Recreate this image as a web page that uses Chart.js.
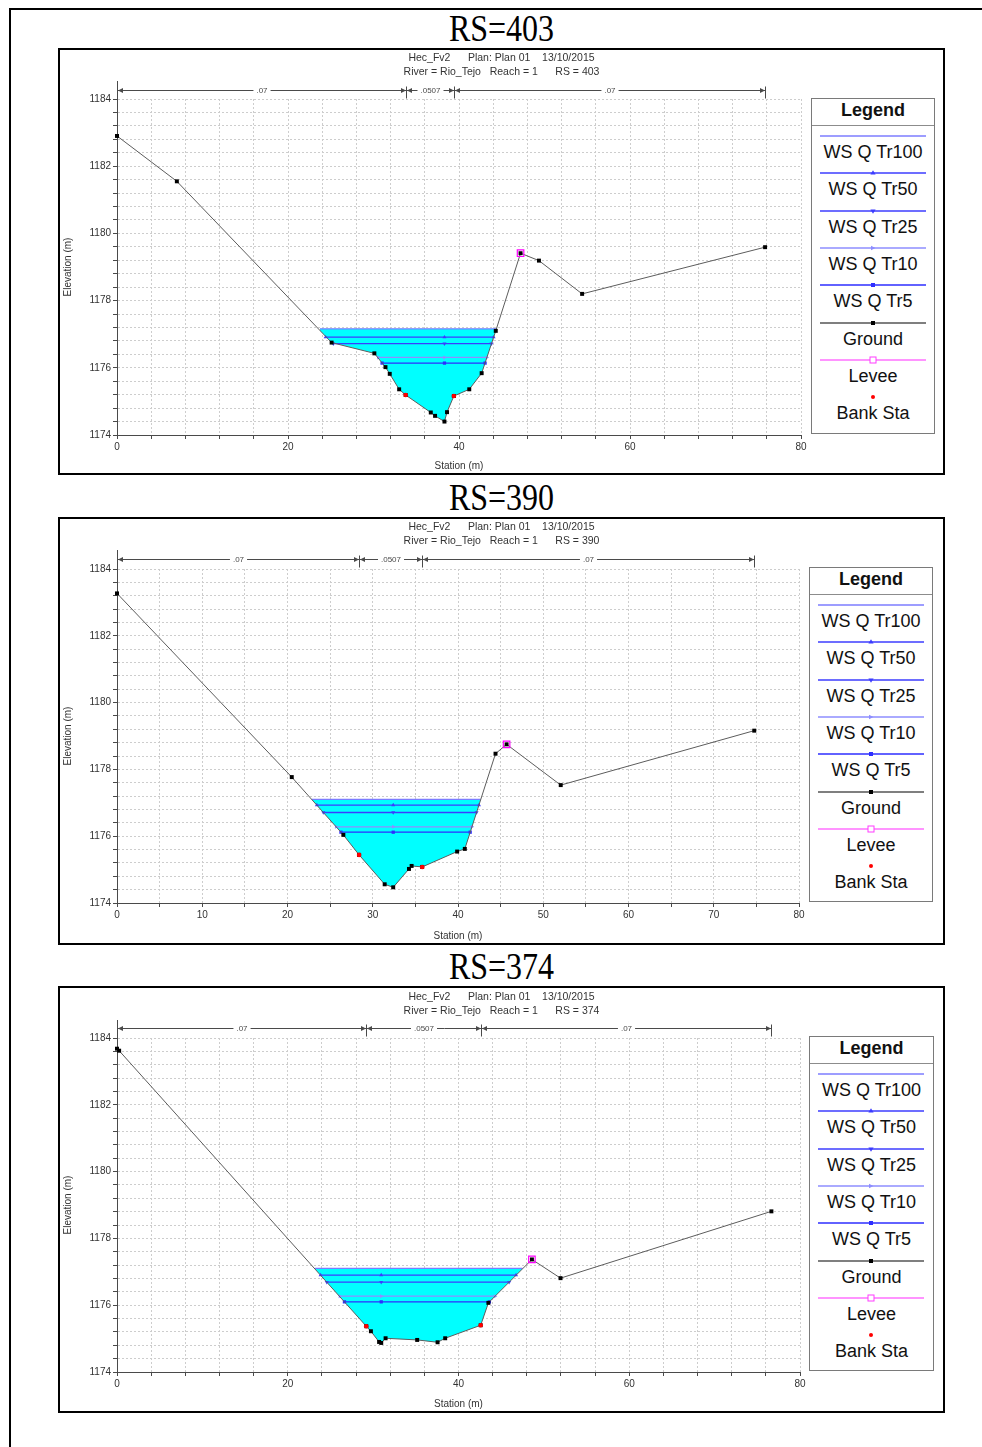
<!DOCTYPE html>
<html>
<head>
<meta charset="utf-8">
<title>Cross sections RS 403 / 390 / 374</title>
<script src="https://cdn.jsdelivr.net/npm/chart.js@4.4.1/dist/chart.umd.min.js"></script>
<style>
  html, body { margin: 0; padding: 0; background: #fff; }
  body { width: 982px; height: 1447px; position: relative; overflow: hidden;
         font-family: 'Liberation Sans', Arial, sans-serif; }
  .frame { position: absolute; left: 9px; top: 8px; right: -4px; bottom: -4px;
           border-left: 2px solid #000; border-top: 2px solid #000; }
  .rs { position: absolute; left: 58px; width: 887px; text-align: center;
        font-family: 'Liberation Serif', 'Times New Roman', serif; font-size: 32px;
        line-height: 32px; transform: scaleY(1.2); color: #000; }
  .panel { position: absolute; left: 58px; width: 883px; border: 2px solid #000; background: #fff; }
  .panel canvas { display: block; }
  .legend { position: absolute; border: 1.5px solid #7a7a7a; background: #fff; box-sizing: border-box; }
  .legend .hd { position: absolute; left: 0; right: 0; text-align: center; font-weight: bold;
                font-size: 18px; line-height: 20px; color: #111; }
  .legend .sep { position: absolute; left: 0; right: 0; height: 0; border-top: 1px solid #8c8c8c; }
  .legend .txt { position: absolute; left: 0; right: 0; text-align: center; font-size: 18px;
                 line-height: 20px; color: #111; white-space: nowrap; }
  .legend .mk { position: absolute; left: 8px; width: 106px; height: 10px; }
  .legend .mk svg { display: block; }
</style>
</head>
<body>
<div class="frame"></div>

<script>
// ---- Common values ----
const profiles = ['WS Q Tr100', 'WS Q Tr50', 'WS Q Tr25', 'WS Q Tr10', 'WS Q Tr5'];
const nValues = ['.07', '.0507', '.07'];
const yLabelValues = [1174, 1176, 1178, 1180, 1182, 1184];

// ---- RS 403 ----
const rs403Sta  = [0, 7.0, 25.1, 30.1, 31.4, 31.9, 33.0, 33.76, 36.7, 37.2, 38.3, 38.6, 39.4, 41.2, 42.65, 44.3, 47.2, 49.35, 54.4, 75.8];
const rs403Elev = [1182.90, 1181.55, 1176.75, 1176.43, 1176.02, 1175.82, 1175.36, 1175.19, 1174.67, 1174.57, 1174.40, 1174.68, 1175.16, 1175.36, 1175.84, 1177.10, 1179.41, 1179.19, 1178.20, 1179.59];
const rs403BankSta  = [33.76, 39.4];
const rs403BankElev = [1175.19, 1175.16];
const rs403LeveeSta  = [47.2];
const rs403LeveeElev = [1179.41];
const rs403WsElev  = [1177.16, 1176.91, 1176.72, 1176.31, 1176.14];
const rs403WsLeft  = [23.74, 24.40, 25.30, 30.56, 31.00];
const rs403WsRight = [44.37, 44.05, 43.80, 43.25, 43.05];
const rs403Thalweg = 38.3;
const rs403XLabels = [0, 20, 40, 60, 80];

// ---- RS 390 ----
const rs390Sta  = [0, 20.5, 26.55, 28.4, 31.4, 32.4, 34.25, 34.56, 35.8, 39.9, 40.8, 44.4, 45.7, 52.05, 74.75];
const rs390Elev = [1183.27, 1177.77, 1176.04, 1175.44, 1174.56, 1174.47, 1175.02, 1175.11, 1175.08, 1175.54, 1175.62, 1178.47, 1178.75, 1177.53, 1179.16];
const rs390BankSta  = [28.4, 35.8];
const rs390BankElev = [1175.44, 1175.08];
const rs390LeveeSta  = [45.7];
const rs390LeveeElev = [1178.75];
const rs390WsElev  = [1177.10, 1176.93, 1176.71, 1176.28, 1176.12];
const rs390WsLeft  = [22.84, 23.44, 24.20, 25.70, 26.27];
const rs390WsRight = [42.65, 42.46, 42.18, 41.63, 41.43];
const rs390Thalweg = 32.4;
const rs390XLabels = [0, 10, 20, 30, 40, 50, 60, 70, 80];

// ---- RS 374 ----
const rs374Sta  = [0, 0.25, 29.2, 29.74, 30.7, 30.95, 31.46, 35.16, 37.55, 38.44, 42.6, 43.5, 48.6, 51.95, 76.65];
const rs374Elev = [1183.68, 1183.62, 1175.37, 1175.22, 1174.90, 1174.87, 1175.01, 1174.96, 1174.89, 1175.01, 1175.40, 1176.07, 1177.37, 1176.81, 1178.81];
const rs374BankSta  = [29.2, 42.6];
const rs374BankElev = [1175.37, 1175.40];
const rs374LeveeSta  = [48.6];
const rs374LeveeElev = [1177.37];
const rs374WsElev  = [1177.10, 1176.90, 1176.69, 1176.27, 1176.10];
const rs374WsLeft  = [23.20, 23.85, 24.57, 26.10, 26.64];
const rs374WsRight = [47.50, 46.74, 45.93, 44.28, 43.62];
const rs374Thalweg = 30.95;
const rs374XLabels = [0, 20, 40, 60, 80];

// ---- Styling ----
const FONT = "'Liberation Sans', Arial, sans-serif";
const wsLineColors = ['#7c7cff', '#3c3cff', '#3c3cff', '#8e8eff', '#2e2eff'];
const wsMarkers    = [false, 'triangle', 'triangle', 'triangle', 'rect'];
const wsMarkerRot  = [0, 0, 180, 90, 0];
const legendMarkers = ['none', 'tri', 'dtri', 'arrow', 'sq'];

// Panel placement on the page
const sections = [
  { rs: '403', sta: rs403Sta, elev: rs403Elev, bankSta: rs403BankSta, bankElev: rs403BankElev,
    leveeSta: rs403LeveeSta, leveeElev: rs403LeveeElev, wsElev: rs403WsElev, wsLeft: rs403WsLeft,
    wsRight: rs403WsRight, thalweg: rs403Thalweg, xLabels: rs403XLabels, xStep: 4,
    headTop: 12, boxTop: 48, innerH: 423, chartTop: 49, titlePadTop: 1, xAxisH: 38, padRight: 142,
    gap: 9, axisExt: 18, legend: { left: 751, top: 48, w: 124, h: 336 } },
  { rs: '390', sta: rs390Sta, elev: rs390Elev, bankSta: rs390BankSta, bankElev: rs390BankElev,
    leveeSta: rs390LeveeSta, leveeElev: rs390LeveeElev, wsElev: rs390WsElev, wsLeft: rs390WsLeft,
    wsRight: rs390WsRight, thalweg: rs390Thalweg, xLabels: rs390XLabels, xStep: 5,
    headTop: 481, boxTop: 517, innerH: 424, chartTop: 50, titlePadTop: 1, xAxisH: 40, padRight: 144,
    gap: 10, axisExt: 19, legend: { left: 749, top: 48, w: 124, h: 335 } },
  { rs: '374', sta: rs374Sta, elev: rs374Elev, bankSta: rs374BankSta, bankElev: rs374BankElev,
    leveeSta: rs374LeveeSta, leveeElev: rs374LeveeElev, wsElev: rs374WsElev, wsLeft: rs374WsLeft,
    wsRight: rs374WsRight, thalweg: rs374Thalweg, xLabels: rs374XLabels, xStep: 4,
    headTop: 950, boxTop: 986, innerH: 423, chartTop: 50, titlePadTop: 2, xAxisH: 39, padRight: 143,
    gap: 10, axisExt: 18, legend: { left: 749, top: 48, w: 125, h: 335 } }
];

// Manning's n bracket above the plot, plus the upward extension of the elevation axis
const nBracket = {
  id: 'nBracket',
  afterDraw(chart, args, o) {
    const { ctx, chartArea, scales: { x } } = chart;
    const yL = Math.round(chartArea.top - o.gap) + 0.5;
    const ax = Math.round(chartArea.left) + 0.5;
    ctx.save();
    ctx.strokeStyle = '#4a4a4a';
    ctx.fillStyle = '#4a4a4a';
    ctx.lineWidth = 1;
    ctx.beginPath();
    ctx.moveTo(ax, chartArea.top);
    ctx.lineTo(ax, chartArea.top - o.axisExt);
    ctx.stroke();

    const stops = [o.start, o.banks[0], o.banks[1], o.end].map(v => Math.round(x.getPixelForValue(v)) + 0.5);
    ctx.beginPath();
    ctx.moveTo(stops[0], yL);
    ctx.lineTo(stops[3], yL);
    for (let i = 1; i < 4; i++) {
      ctx.moveTo(stops[i], yL - 4);
      ctx.lineTo(stops[i], yL + 8);
    }
    ctx.stroke();

    ctx.font = '8px ' + FONT;
    ctx.textAlign = 'center';
    ctx.textBaseline = 'middle';
    for (let i = 0; i < 3; i++) {
      const a = stops[i], b = stops[i + 1];
      // arrowheads pointing at both ends of the segment
      ctx.beginPath();
      ctx.moveTo(a + 0.5, yL); ctx.lineTo(a + 5.5, yL - 2.5); ctx.lineTo(a + 5.5, yL + 2.5); ctx.closePath();
      ctx.moveTo(b - 0.5, yL); ctx.lineTo(b - 5.5, yL - 2.5); ctx.lineTo(b - 5.5, yL + 2.5); ctx.closePath();
      ctx.fill();
      const mid = (a + b) / 2;
      const tw = ctx.measureText(o.labels[i]).width;
      ctx.fillStyle = '#fff';
      ctx.fillRect(mid - tw / 2 - 3, yL - 4, tw + 6, 8);
      ctx.fillStyle = '#4a4a4a';
      ctx.fillText(o.labels[i], mid, yL + 0.5);
    }
    ctx.restore();
  }
};

function near(v, list) { return list.some(t => Math.abs(t - v) < 1e-6); }

function legendSvg(kind, color) {
  let mk = '';
  if (kind === 'tri')   mk = `<polygon points="53,2.2 55.6,6.6 50.4,6.6" fill="${color}"/>`;
  if (kind === 'dtri')  mk = `<polygon points="50.4,3.4 55.6,3.4 53,7.8" fill="${color}"/>`;
  if (kind === 'arrow') mk = `<polygon points="51,2.8 55.4,5 51,7.2" fill="${color}"/>`;
  if (kind === 'sq')    mk = `<rect x="51" y="3" width="4" height="4" fill="${color}"/>`;
  if (kind === 'bsq')   mk = `<rect x="51" y="3" width="4" height="4" fill="#000"/>`;
  if (kind === 'osq')   mk = `<rect x="50" y="2" width="6" height="6" fill="#fff" stroke="#ff3cff" stroke-width="1"/>`;
  if (kind === 'dot')   return `<svg width="106" height="10"><circle cx="53" cy="5" r="2" fill="#ff0000"/></svg>`;
  return `<svg width="106" height="10"><line x1="0" y1="5" x2="106" y2="5" stroke="${color}" stroke-width="1.5"/>${mk}</svg>`;
}

function buildLegend(panel, L) {
  const box = document.createElement('div');
  box.className = 'legend';
  Object.assign(box.style, { left: L.left + 'px', top: L.top + 'px', width: L.w + 'px', height: L.h + 'px' });
  const entries = profiles.map((p, i) => ({ name: p, color: wsLineColors[i], kind: legendMarkers[i] }))
    .concat([{ name: 'Ground', color: '#555', kind: 'bsq' },
             { name: 'Levee', color: '#ff70ff', kind: 'osq' },
             { name: 'Bank Sta', color: '#f00', kind: 'dot' }]);
  let html = `<div class="hd" style="top:1px">Legend</div><div class="sep" style="top:26px"></div>`;
  entries.forEach((e, i) => {
    const ly = 37 + i * 37.3;
    html += `<div class="mk" style="top:${(ly - 5).toFixed(1)}px">${legendSvg(e.kind, e.color)}</div>`;
    html += `<div class="txt" style="top:${(ly + 6).toFixed(1)}px">${e.name}</div>`;
  });
  box.innerHTML = html;
  panel.appendChild(box);
}

sections.forEach(sec => {
  const head = document.createElement('div');
  head.className = 'rs';
  head.style.top = sec.headTop + 'px';
  head.textContent = 'RS=' + sec.rs;
  document.body.appendChild(head);

  const panel = document.createElement('div');
  panel.className = 'panel';
  panel.style.top = sec.boxTop + 'px';
  panel.style.height = sec.innerH + 'px';
  document.body.appendChild(panel);

  const canvas = document.createElement('canvas');
  canvas.width = 883;
  canvas.height = sec.innerH;
  panel.appendChild(canvas);
  buildLegend(panel, sec.legend);

  const ground = sec.sta.map((s, i) => ({ x: s, y: sec.elev[i] }));
  const datasets = [
    { label: 'Bank Sta', data: sec.bankSta.map((s, i) => ({ x: s, y: sec.bankElev[i] })),
      showLine: false, pointStyle: 'circle', pointRadius: 2.3, pointBorderWidth: 0,
      pointBackgroundColor: '#ff0000', clip: false },
    { label: 'Levee', data: sec.leveeSta.map((s, i) => ({ x: s, y: sec.leveeElev[i] })),
      showLine: false, pointStyle: 'rect', pointRadius: 4.6, pointBorderWidth: 1.2,
      pointBorderColor: '#ff00ff', pointBackgroundColor: 'rgba(0,0,0,0)', clip: false },
    { label: 'Ground', data: ground, showLine: true, borderColor: '#5c5c5c', borderWidth: 1,
      pointStyle: 'rect', pointRadius: 2.8, pointBorderWidth: 0, pointBackgroundColor: '#000',
      fill: false, clip: false }
  ];
  const groundIndex = 2;
  // water surfaces, lowest first so that Tr100 (with the flooded area) is painted underneath
  for (let p = profiles.length - 1; p >= 0; p--) {
    const lvl = sec.wsElev[p];
    datasets.push({
      label: profiles[p],
      data: [{ x: sec.wsLeft[p], y: lvl }, { x: sec.thalweg, y: lvl }, { x: sec.wsRight[p], y: lvl }],
      showLine: true,
      borderColor: wsLineColors[p],
      borderWidth: 1.3,
      pointStyle: wsMarkers[p] || 'circle',
      pointRotation: wsMarkerRot[p],
      pointRadius: wsMarkers[p] ? 2.3 : 0,
      pointBorderWidth: 0,
      pointBackgroundColor: wsLineColors[p],
      fill: p === 0 ? { target: groundIndex } : false,
      backgroundColor: '#00ffff',
      clip: false
    });
  }

  const xTicks = [];
  for (let v = 0; v <= 80 + 1e-9; v += sec.xStep) xTicks.push({ value: Math.round(v * 100) / 100 });
  const yTicks = [];
  for (let k = 0; k <= 25; k++) yTicks.push({ value: Math.round((1174 + k * 0.4) * 100) / 100 });

  const tickFont = { family: FONT, size: 10 };
  new Chart(canvas, {
    type: 'scatter',
    data: { datasets },
    options: {
      responsive: false,
      animation: false,
      devicePixelRatio: 1,
      events: [],
      layout: { padding: 0 },
      elements: { line: { tension: 0 } },
      plugins: {
        legend: { display: false },
        tooltip: { enabled: false },
        title: {
          display: true,
          text: ['Hec_Fv2      Plan: Plan 01    13/10/2015',
                 'River = Rio_Tejo   Reach = 1      RS = ' + sec.rs],
          color: '#333',
          font: { family: FONT, size: 10.5, weight: 'normal', lineHeight: '14px' },
          padding: { top: sec.titlePadTop, bottom: sec.chartTop - sec.titlePadTop - 28 }
        },
        nBracket: {
          start: sec.sta[0], end: sec.sta[sec.sta.length - 1], banks: sec.bankSta,
          labels: nValues, gap: sec.gap, axisExt: sec.axisExt
        }
      },
      scales: {
        x: {
          type: 'linear', min: 0, max: 80,
          afterBuildTicks: s => { s.ticks = xTicks.map(t => ({ value: t.value })); },
          afterFit: s => { s.height = sec.xAxisH; },
          ticks: {
            autoSkip: false, maxRotation: 0, padding: 2, color: '#333', font: tickFont,
            callback: v => near(v, sec.xLabels) ? String(v) : ''
          },
          grid: { color: '#cdcdcd', lineWidth: 1, tickLength: 4, tickColor: '#4a4a4a', tickWidth: 1 },
          border: { display: true, color: '#4a4a4a', width: 1, dash: [2, 2] },
          title: { display: true, text: 'Station (m)', color: '#333',
                   font: { family: FONT, size: 10 }, padding: { top: 0, bottom: 1 } }
        },
        y: {
          type: 'linear', min: 1174, max: 1184,
          afterBuildTicks: s => { s.ticks = yTicks.map(t => ({ value: t.value })); },
          afterFit: s => { s.width = 57; },
          ticks: {
            autoSkip: false, padding: 2, color: '#333', font: tickFont,
            callback: v => near(v, yLabelValues) ? String(v) : ''
          },
          grid: { color: '#cdcdcd', lineWidth: 1, tickLength: 4, tickColor: '#4a4a4a', tickWidth: 1 },
          border: { display: true, color: '#4a4a4a', width: 1, dash: [2, 2] },
          title: { display: true, text: 'Elevation (m)', color: '#333',
                   font: { family: FONT, size: 10 }, padding: { top: 2, bottom: 0 } }
        },
        // empty strip on the right that keeps room for the legend box
        side: {
          type: 'linear', position: 'right', min: 1174, max: 1184,
          afterFit: s => { s.width = sec.padRight; },
          ticks: { display: false },
          grid: { display: false, drawTicks: false },
          border: { display: false }
        }
      }
    },
    plugins: [nBracket]
  });
});
</script>
</body>
</html>
